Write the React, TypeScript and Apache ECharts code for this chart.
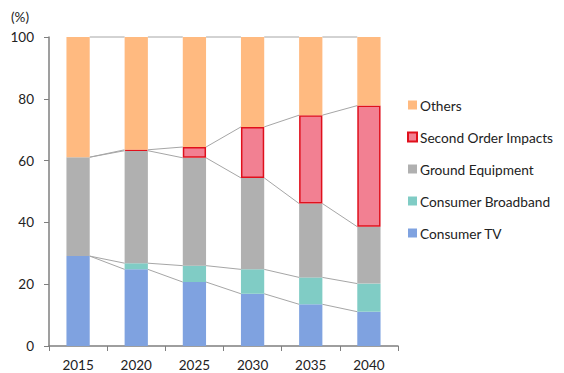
import React, { useEffect, useRef } from "react";
import * as echarts from "echarts";

// Share of total (%) by segment, per year
const years = ["2015", "2020", "2025", "2030", "2035", "2040"];
const consumerTV = [29.1, 24.8, 20.7, 16.9, 13.5, 11.1];
const consumerBroadband = [0, 2.0, 5.3, 7.9, 8.7, 9.1];
const groundEquipment = [32.0, 36.4, 34.9, 29.6, 23.9, 18.4];
const secondOrderImpacts: (number | null)[] = [null, 0.3, 3.5, 16.5, 28.6, 39.2];
const others = [38.9, 36.5, 35.6, 29.1, 25.3, 22.2];
const yTicks = [0, 20, 40, 60, 80, 100];

const BAR_RATIO = 0.4;
const FONT = "Lato, 'Open Sans', sans-serif";

export default function App() {
  const ref = useRef<HTMLDivElement>(null);

  useEffect(() => {
    if (!ref.current) return;
    const chart = echarts.init(ref.current, null, { renderer: "svg" });

    // cumulative tops of each stacked layer, used for the series lines between bars
    const layers = [consumerTV, consumerBroadband, groundEquipment, secondOrderImpacts, others];
    const tops: number[][] = [];
    let running = years.map(() => 0);
    layers.forEach((layer) => {
      running = running.map((v, i) => v + (layer[i] ?? 0));
      tops.push(running.slice());
    });
    const connectors: number[][] = [];
    tops.forEach((t) => {
      for (let i = 0; i < years.length - 1; i++) connectors.push([i, t[i], t[i + 1]]);
    });

    const bar = (name: string, data: (number | null)[], color: string, border?: string) => ({
      name,
      type: "bar",
      stack: "total",
      barWidth: `${BAR_RATIO * 100}%`,
      data,
      itemStyle: border
        ? { color, borderColor: border, borderWidth: 1.5 }
        : { color },
      emphasis: { disabled: true },
    });

    chart.setOption({
      animation: false,
      textStyle: { fontFamily: FONT },
      grid: { left: 49, right: 166, top: 37, bottom: 27 },
      graphic: [
        {
          type: "text",
          left: 11,
          top: 10,
          style: { text: "(%)", font: `13.5px ${FONT}`, fill: "#222" },
        },
      ],
      legend: {
        orient: "vertical",
        left: 407,
        top: 98,
        padding: 0,
        itemWidth: 9,
        itemHeight: 9,
        itemGap: 18,
        icon: "rect",
        textStyle: { fontFamily: FONT, fontSize: 13.7, color: "#222", padding: [0, 0, 0, -2] },
        data: [
          "Others",
          "Second Order Impacts",
          "Ground Equipment",
          "Consumer Broadband",
          "Consumer TV",
        ],
        selectedMode: false,
      },
      xAxis: {
        type: "category",
        data: years,
        axisLine: { lineStyle: { color: "#7f7f7f", width: 1.5 } },
        axisTick: { show: true, length: 5, lineStyle: { color: "#7f7f7f" } },
        axisLabel: { color: "#222", fontSize: 13.5, fontFamily: FONT, margin: 12 },
      },
      yAxis: {
        type: "value",
        min: yTicks[0],
        max: yTicks[yTicks.length - 1],
        interval: 20,
        axisLine: { show: true, lineStyle: { color: "#7f7f7f", width: 1.5 } },
        axisTick: { show: true, inside: false, length: 5, lineStyle: { color: "#7f7f7f" } },
        splitLine: { show: false },
        axisLabel: { color: "#222", fontSize: 13.5, fontFamily: FONT, margin: 15 },
      },
      series: [
        bar("Consumer TV", consumerTV, "#7fa2e0"),
        bar("Consumer Broadband", consumerBroadband, "#80ccc5"),
        bar("Ground Equipment", groundEquipment, "#b0b0b0"),
        bar("Second Order Impacts", secondOrderImpacts, "#f28092", "#e0101c"),
        bar("Others", others, "#ffba80"),
        {
          name: "series lines",
          type: "custom",
          coordinateSystem: "cartesian2d",
          silent: true,
          z: 1,
          encode: { x: 0, y: [1, 2] },
          data: connectors,
          renderItem: (_params: any, api: any) => {
            const i = api.value(0);
            const p1 = api.coord([i, api.value(1)]);
            const p2 = api.coord([i + 1, api.value(2)]);
            const half = (api.size([1, 0])[0] * BAR_RATIO) / 2;
            return {
              type: "line",
              shape: { x1: p1[0] + half, y1: p1[1], x2: p2[0] - half, y2: p2[1] },
              style: { stroke: "#a6a6a6", lineWidth: 1 },
            };
          },
        },
      ],
    } as any);

    return () => chart.dispose();
  }, []);

  return (
    <div
      ref={ref}
      style={{ position: "absolute", left: 0, top: 0, width: 564, height: 373 }}
    />
  );
}
